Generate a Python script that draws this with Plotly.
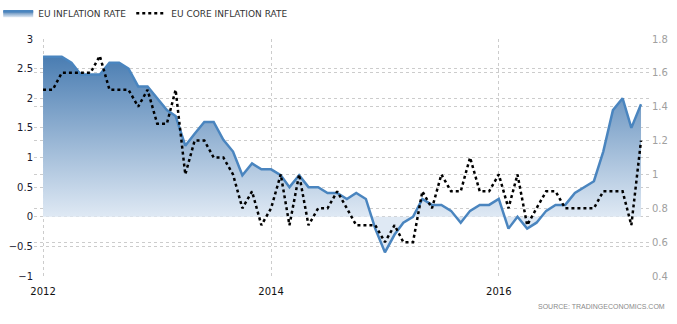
import pandas as pd
import plotly.graph_objects as go

start_month = "2012-01-01"
inflation = [2.7, 2.7, 2.7, 2.6, 2.4, 2.4, 2.4, 2.6, 2.6, 2.5, 2.2, 2.2,
             2.0, 1.8, 1.7, 1.2, 1.4, 1.6, 1.6, 1.3, 1.1, 0.7, 0.9, 0.8,
             0.8, 0.7, 0.5, 0.7, 0.5, 0.5, 0.4, 0.4, 0.3, 0.4, 0.3, -0.2,
             -0.6, -0.3, -0.1, 0.0, 0.3, 0.2, 0.2, 0.1, -0.1, 0.1, 0.2, 0.2,
             0.3, -0.2, 0.0, -0.2, -0.1, 0.1, 0.2, 0.2, 0.4, 0.5, 0.6, 1.1,
             1.8, 2.0, 1.5, 1.9]
core = [1.5, 1.5, 1.6, 1.6, 1.6, 1.6, 1.7, 1.5, 1.5, 1.5, 1.4, 1.5,
        1.3, 1.3, 1.5, 1.0, 1.2, 1.2, 1.1, 1.1, 1.0, 0.8, 0.9, 0.7,
        0.8, 1.0, 0.7, 1.0, 0.7, 0.8, 0.8, 0.9, 0.8, 0.7, 0.7, 0.7,
        0.6, 0.7, 0.6, 0.6, 0.9, 0.8, 1.0, 0.9, 0.9, 1.1, 0.9, 0.9,
        1.0, 0.8, 1.0, 0.7, 0.8, 0.9, 0.9, 0.8, 0.8, 0.8, 0.8, 0.9,
        0.9, 0.9, 0.7, 1.2]
left_ticks = [-1, -0.5, 0, 0.5, 1, 1.5, 2, 2.5, 3]
right_ticks = [0.4, 0.6, 0.8, 1.0, 1.2, 1.4, 1.6, 1.8]
x_ticks = ["2012-01-01", "2014-01-01", "2016-01-01"]
x_tick_text = ["2012", "2014", "2016"]

dates = pd.date_range(start_month, periods=len(inflation), freq="MS")

fig = go.Figure()
fig.add_trace(go.Scatter(
    x=dates, y=inflation, name="EU INFLATION RATE", mode="lines",
    line=dict(color="#4a85bf", width=2.5),
    fill="tozeroy",
    fillgradient=dict(type="vertical", start=0, stop=2.7,
                      colorscale=[[0, "#dfe9f4"], [1, "#4a7db2"]]),
    yaxis="y",
))
fig.add_trace(go.Scatter(
    x=dates, y=core, name="EU CORE INFLATION RATE", mode="lines",
    line=dict(color="#000000", width=2.5, dash="dot"),
    yaxis="y2",
))

grid = "#cccccc"
plot_l, plot_r = 34, 651
pw = plot_r - plot_l
fig.update_layout(
    width=677, height=324,
    margin=dict(l=plot_l, r=677 - plot_r, t=39, b=48, autoexpand=False),
    paper_bgcolor="white", plot_bgcolor="white",
    font=dict(family="DejaVu Sans", size=10, color="#222222"),
    showlegend=True,
    legend=dict(orientation="h", x=-0.058, y=1.17, xanchor="left", yanchor="top",
                font=dict(family="DejaVu Sans", size=9, color="#333333"),
                bgcolor="rgba(0,0,0,0)", itemwidth=30, tracegroupgap=0),
    xaxis=dict(range=["2011-12-03", "2017-05-03"], tickvals=x_ticks, ticktext=x_tick_text,
               showgrid=True, gridcolor=grid, griddash="dot", gridwidth=1,
               zeroline=False, showline=False, ticks="outside", ticklen=6,
               tickcolor="rgba(0,0,0,0)", automargin=False,
               tickfont=dict(family="DejaVu Sans", size=10, color="#111111")),
    yaxis=dict(range=[-1, 3], tickvals=left_ticks, showgrid=True, gridcolor=grid,
               griddash="dot", zeroline=False, showline=False, ticks="", automargin=False,
               tickfont=dict(family="DejaVu Sans", size=10, color="#1a1a2e")),
    yaxis2=dict(range=[0.4, 1.8], tickvals=right_ticks, overlaying="y", side="right",
                showgrid=True, gridcolor=grid, griddash="dot", zeroline=False,
                showline=False, ticks="", automargin=False,
                tickfont=dict(family="DejaVu Sans", size=10, color="#a0a0a0")),
    annotations=[dict(text="SOURCE: TRADINGECONOMICS.COM", xref="paper", yref="paper",
                      x=(667 - plot_l) / pw, y=-(306 - 276) / 237, xanchor="right",
                      yanchor="middle", showarrow=False,
                      font=dict(family="Liberation Sans", size=7, color="#8a8a8a"))],
)

fig.write_html("out.html")
